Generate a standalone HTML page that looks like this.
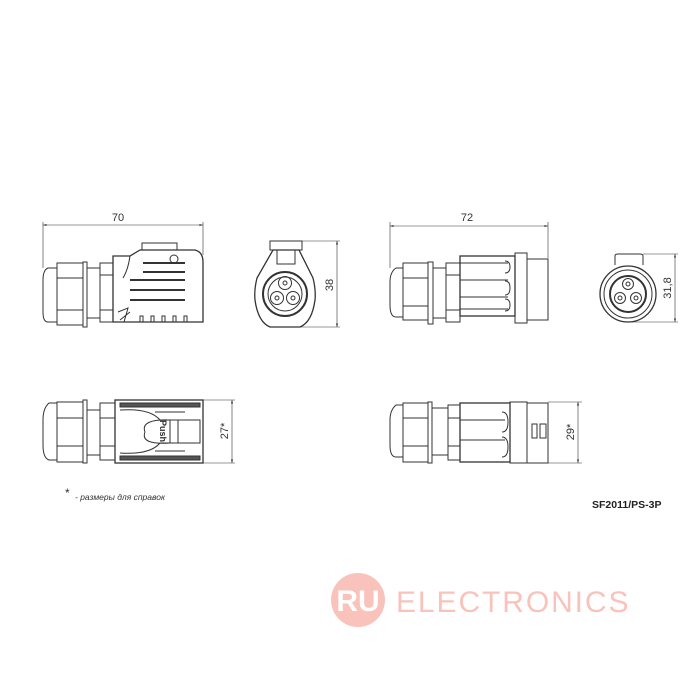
<!DOCTYPE html>
<html><head><meta charset="utf-8"><style>
html,body{margin:0;padding:0;background:#fff;width:700px;height:700px;overflow:hidden}
svg{display:block}
text{font-family:"Liberation Sans",sans-serif;fill:#333}
</style></head><body>
<svg width="700" height="700" viewBox="0 0 700 700" xmlns="http://www.w3.org/2000/svg">
<defs>
<marker id="a" viewBox="0 0 10 10" refX="10" refY="5" markerWidth="6" markerHeight="6" orient="auto-start-reverse"><path d="M0,2 L10,5 L0,8 z" fill="#333"/></marker>
</defs>
<!-- watermark -->
<circle cx="358" cy="600" r="27" fill="#f9c3bb"/>
<text x="358" y="611" text-anchor="middle" font-size="30" style="fill:#fff" font-weight="bold">RU</text>
<text x="396" y="612" font-size="30" style="fill:#f9c3bb" letter-spacing="1.5" textLength="234">ELECTRONICS</text>

<g fill="none" stroke="#333" stroke-width="1">
<!-- TOP LEFT -->
<line x1="43" y1="222" x2="43" y2="268" stroke-width="0.6"/>
<line x1="203" y1="222" x2="203" y2="255" stroke-width="0.6"/>
<line x1="43" y1="225" x2="203" y2="225" stroke-width="0.6" marker-start="url(#a)" marker-end="url(#a)"/>
<path d="M57,268 L48,268 Q43,270 43,280 L43,312 Q43,322 48,322 L57,322 Z"/>
<rect x="57" y="263" width="26" height="62"/>
<line x1="57" y1="278" x2="83" y2="278"/><line x1="57" y1="310" x2="83" y2="310"/>
<rect x="83" y="262" width="4" height="65"/>
<rect x="87" y="268" width="13" height="50"/>
<rect x="100" y="263" width="13" height="59"/>
<line x1="100" y1="275" x2="113" y2="275"/><line x1="100" y1="310" x2="113" y2="310"/>
<path d="M113,256 L130,256 L140,250 L195,250 Q203,252 203,262 L203,322 L113,322 Z" stroke-width="1.3"/>
<rect x="142" y="243" width="35" height="7"/>
<circle cx="174" cy="259" r="4"/>
<path d="M130,256 Q128,270 123,278"/>
<line x1="143" y1="263" x2="185" y2="263" stroke-width="2"/>
<line x1="143" y1="272" x2="185" y2="272" stroke-width="2"/>
<line x1="130" y1="280" x2="185" y2="280" stroke-width="2"/>
<line x1="130" y1="290" x2="185" y2="290" stroke-width="2"/>
<line x1="130" y1="300" x2="185" y2="300" stroke-width="2"/>
<path d="M118,312 L128,308 L124,322 M120,320 L130,312"/>
<path d="M140,322 v-6 h3 v6 M151,322 v-6 h3 v6 M162,322 v-6 h3 v6 M173,322 v-6 h3 v6 M184,322 v-6 h3 v6"/>

<!-- front view 1 -->
<rect x="270" y="241" width="32" height="9"/>
<path d="M273,250 L299,250 L313,278 Q316,290 315,300 Q312,322 300,327 L270,327 Q258,322 255,300 Q254,290 257,278 Z" stroke-width="1.3"/>
<rect x="277" y="250" width="18" height="14"/>
<circle cx="285" cy="294" r="22" stroke-width="2"/>
<circle cx="285" cy="294" r="17"/>
<circle cx="285" cy="283" r="6.5"/><circle cx="285" cy="283" r="2"/>
<circle cx="277" cy="298" r="6.5"/><circle cx="277" cy="298" r="2"/>
<circle cx="293" cy="298" r="6.5"/><circle cx="293" cy="298" r="2"/>
<line x1="302" y1="241" x2="340" y2="241" stroke-width="0.6"/>
<line x1="300" y1="327" x2="340" y2="327" stroke-width="0.6"/>
<line x1="337" y1="241" x2="337" y2="327" stroke-width="0.6" marker-start="url(#a)" marker-end="url(#a)"/>

<!-- TOP RIGHT -->
<line x1="390" y1="222" x2="390" y2="268" stroke-width="0.6"/>
<line x1="548" y1="222" x2="548" y2="258" stroke-width="0.6"/>
<line x1="390" y1="226" x2="548" y2="226" stroke-width="0.6" marker-start="url(#a)" marker-end="url(#a)"/>
<path d="M403,268 L396,268 Q390,272 390,282 L390,305 Q390,317 396,317 L403,317 Z"/>
<rect x="403" y="263" width="25" height="57"/>
<line x1="403" y1="278" x2="428" y2="278"/><line x1="403" y1="306" x2="428" y2="306"/>
<rect x="428" y="262" width="5" height="62"/>
<rect x="433" y="268" width="13" height="50"/>
<rect x="446" y="263" width="14" height="59"/>
<line x1="446" y1="275" x2="460" y2="275"/><line x1="446" y1="310" x2="460" y2="310"/>
<rect x="460" y="256" width="55" height="60" stroke-width="1.3"/>
<line x1="460" y1="263" x2="508" y2="263"/><line x1="460" y1="280" x2="508" y2="280"/><line x1="460" y1="297" x2="508" y2="297"/><line x1="460" y1="309" x2="508" y2="309"/>
<path d="M505,261 q5,0 5,6 q0,6 -5,6 M505,281 q5,0 5,7 q0,7 -5,7 M505,299 q5,0 5,6 q0,6 -5,6"/>
<rect x="515" y="253" width="12" height="70"/>
<rect x="527" y="259" width="21" height="61"/>

<!-- front view 2 -->
<path d="M615,265 L615,256 Q615,254 618,254 L640,254 Q643,254 643,256 L643,265"/>
<circle cx="628" cy="294" r="28" stroke-width="1.3"/>
<circle cx="628" cy="294" r="24"/>
<circle cx="628" cy="294" r="18" stroke-width="2"/>
<circle cx="628" cy="284" r="5.5"/><circle cx="628" cy="284" r="2"/>
<circle cx="620" cy="298" r="5.5"/><circle cx="620" cy="298" r="2"/>
<circle cx="636" cy="298" r="5.5"/><circle cx="636" cy="298" r="2"/>
<line x1="643" y1="254" x2="678" y2="254" stroke-width="0.6"/>
<line x1="630" y1="322" x2="678" y2="322" stroke-width="0.6"/>
<line x1="675" y1="254" x2="675" y2="322" stroke-width="0.6" marker-start="url(#a)" marker-end="url(#a)"/>

<!-- BOTTOM LEFT -->
<path d="M57,403 L49,403 Q43,408 43,420 L43,445 Q43,458 49,460 L57,460 Z"/>
<rect x="57" y="402" width="26" height="60"/>
<line x1="57" y1="418" x2="83" y2="418"/><line x1="57" y1="446" x2="83" y2="446"/>
<rect x="83" y="400" width="4" height="63"/>
<rect x="87" y="410" width="13" height="45"/>
<rect x="100" y="403" width="15" height="57"/>
<line x1="100" y1="418" x2="115" y2="418"/><line x1="100" y1="446" x2="115" y2="446"/>
<rect x="115" y="400" width="88" height="63" stroke-width="1.3"/>
<rect x="120" y="403" width="80" height="4" fill="#555"/>
<rect x="120" y="456" width="80" height="4" fill="#555"/>
<path d="M120,410 Q150,408 160,420 L200,420 M120,453 Q150,455 160,443 L200,443"/>
<path d="M170,420 L170,443 Q140,445 145,432 Q140,419 170,420"/>
<rect x="178" y="420" width="22" height="23"/>
<line x1="155" y1="412" x2="185" y2="412"/><line x1="155" y1="451" x2="185" y2="451"/>
<line x1="203" y1="400" x2="235" y2="400" stroke-width="0.6"/>
<line x1="203" y1="463" x2="235" y2="463" stroke-width="0.6"/>
<line x1="232" y1="400" x2="232" y2="463" stroke-width="0.6" marker-start="url(#a)" marker-end="url(#a)"/>

<!-- BOTTOM RIGHT -->
<path d="M403,405 L396,405 Q390,410 390,420 L390,445 Q390,457 396,457 L403,457 Z"/>
<rect x="403" y="403" width="25" height="59"/>
<line x1="403" y1="418" x2="428" y2="418"/><line x1="403" y1="446" x2="428" y2="446"/>
<rect x="428" y="402" width="4" height="61"/>
<rect x="432" y="408" width="16" height="47"/>
<rect x="448" y="405" width="12" height="55"/>
<line x1="448" y1="418" x2="460" y2="418"/><line x1="448" y1="446" x2="460" y2="446"/>
<rect x="460" y="403" width="50" height="59" stroke-width="1.3"/>
<line x1="460" y1="420" x2="505" y2="420"/><line x1="460" y1="440" x2="505" y2="440"/>
<path d="M502,412 q6,0 6,10 q0,10 -6,10 M502,437 q6,0 6,10 q0,10 -6,10"/>
<rect x="510" y="402" width="17" height="61"/>
<rect x="527" y="403" width="21" height="60"/>
<rect x="532" y="424" width="5" height="14"/><rect x="540" y="424" width="6" height="14"/>
<line x1="548" y1="402" x2="582" y2="402" stroke-width="0.6"/>
<line x1="548" y1="463" x2="582" y2="463" stroke-width="0.6"/>
<line x1="578" y1="402" x2="578" y2="463" stroke-width="0.6" marker-start="url(#a)" marker-end="url(#a)"/>
</g>

<text x="118" y="221" font-size="11" text-anchor="middle">70</text>
<text x="467" y="221" font-size="11" text-anchor="middle">72</text>
<text transform="translate(333,285) rotate(-90)" font-size="11" text-anchor="middle">38</text>
<text transform="translate(671,288) rotate(-90)" font-size="11" text-anchor="middle">31,8</text>
<text transform="translate(228,431) rotate(-90)" font-size="11" text-anchor="middle">27*</text>
<text transform="translate(574,432) rotate(-90)" font-size="11" text-anchor="middle">29*</text>
<text transform="translate(160,431) rotate(90)" font-size="9" text-anchor="middle" font-weight="bold">Push</text>
<text x="65" y="497" font-size="12">*</text>
<text x="75" y="500" font-size="8.5" font-style="italic">- размеры для справок</text>
<text x="592" y="508" font-size="10.5" font-weight="bold" style="fill:#222">SF2011/PS-3P</text>
</svg>
</body></html>
